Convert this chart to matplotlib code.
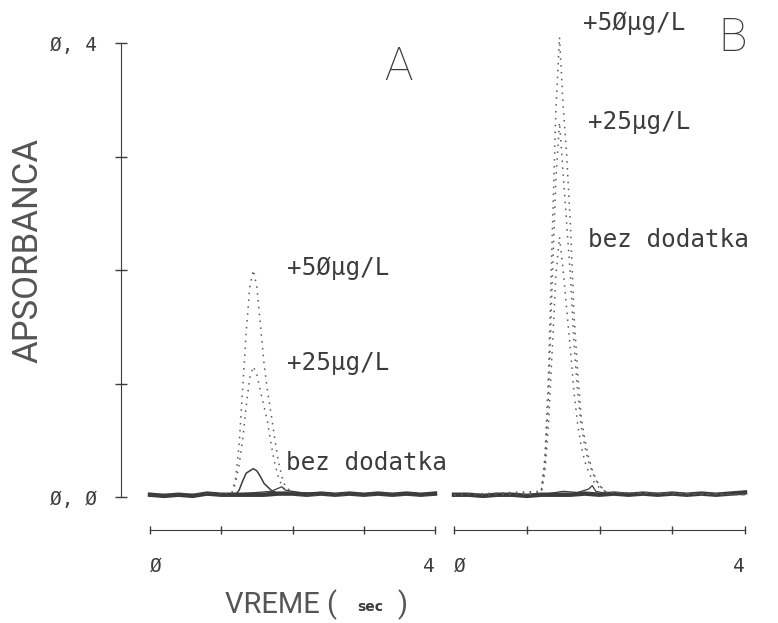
import matplotlib
matplotlib.use("Agg")
import matplotlib.pyplot as plt

# --- data (time in s, absorbance) ---
base_t = [0.0, 0.2, 0.4, 0.6, 0.8, 1.0, 1.2, 1.4, 1.6, 1.8, 2.0, 2.2, 2.4, 2.6, 2.8, 3.0, 3.2, 3.4, 3.6, 3.8, 4.0]
base_a = [0.002, 0.001, 0.002, 0.001, 0.003, 0.002, 0.002, 0.002, 0.002, 0.003, 0.003, 0.002, 0.003, 0.002, 0.003, 0.002, 0.003, 0.002, 0.003, 0.002, 0.003]
base_b = [0.002, 0.002, 0.001, 0.002, 0.002, 0.001, 0.002, 0.002, 0.002, 0.003, 0.002, 0.003, 0.002, 0.003, 0.002, 0.003, 0.002, 0.003, 0.002, 0.003, 0.004]

# panel A
a50_t = [0.0, 1.1, 1.15, 1.2, 1.25, 1.3, 1.35, 1.4, 1.45, 1.5, 1.55, 1.6, 1.65, 1.7, 1.75, 1.8, 1.85, 1.9, 2.0, 2.2, 4.0]
a50_v = [0.002, 0.002, 0.004, 0.016, 0.045, 0.095, 0.145, 0.185, 0.200, 0.185, 0.152, 0.118, 0.093, 0.073, 0.052, 0.032, 0.018, 0.009, 0.004, 0.002, 0.002]
a25_t = [0.0, 1.15, 1.2, 1.25, 1.3, 1.35, 1.4, 1.45, 1.5, 1.55, 1.6, 1.65, 1.7, 1.75, 1.8, 1.85, 1.9, 2.0, 4.0]
a25_v = [0.002, 0.003, 0.012, 0.028, 0.050, 0.080, 0.105, 0.115, 0.108, 0.093, 0.080, 0.066, 0.046, 0.030, 0.018, 0.010, 0.006, 0.003, 0.002]
a0_t = [0.0, 1.2, 1.25, 1.3, 1.35, 1.45, 1.5, 1.55, 1.6, 1.7, 1.8, 4.0]
a0_v = [0.002, 0.002, 0.006, 0.014, 0.021, 0.025, 0.023, 0.018, 0.012, 0.006, 0.003, 0.002]
ablank_t = [1.1, 1.3, 1.5, 1.7, 1.85, 1.9, 2.1, 2.4]
ablank_v = [0.002, 0.003, 0.004, 0.005, 0.009, 0.006, 0.004, 0.003]

# panel B
b50_t = [0.0, 1.15, 1.2, 1.25, 1.3, 1.35, 1.4, 1.45, 1.5, 1.55, 1.6, 1.65, 1.7, 1.75, 1.8, 1.85, 1.9, 1.95, 2.0, 2.1, 4.0]
b50_v = [0.002, 0.002, 0.006, 0.035, 0.110, 0.230, 0.340, 0.405, 0.345, 0.300, 0.240, 0.160, 0.110, 0.070, 0.050, 0.035, 0.024, 0.016, 0.010, 0.004, 0.002]
b25_t = [0.0, 1.2, 1.25, 1.3, 1.35, 1.4, 1.45, 1.5, 1.55, 1.6, 1.65, 1.7, 1.75, 1.8, 1.85, 1.9, 1.95, 2.0, 2.1, 4.0]
b25_v = [0.002, 0.005, 0.030, 0.090, 0.190, 0.280, 0.330, 0.285, 0.240, 0.195, 0.135, 0.092, 0.062, 0.044, 0.031, 0.022, 0.015, 0.010, 0.004, 0.002]
b0_t = [0.0, 1.2, 1.25, 1.3, 1.35, 1.4, 1.45, 1.5, 1.55, 1.6, 1.65, 1.7, 1.75, 1.8, 1.85, 1.9, 2.0, 2.1, 4.0]
b0_v = [0.002, 0.004, 0.022, 0.065, 0.130, 0.195, 0.229, 0.200, 0.165, 0.130, 0.092, 0.064, 0.044, 0.031, 0.022, 0.015, 0.008, 0.004, 0.002]
bblank_t = [1.1, 1.3, 1.5, 1.7, 1.85, 1.9, 1.95, 2.1, 2.4]
bblank_v = [0.002, 0.003, 0.005, 0.004, 0.007, 0.010, 0.005, 0.003, 0.002]

labels = ["+5\u00d8\u00b5g/L", "+25\u00b5g/L", "bez dodatka"]

INK = "#3c3c3c"
DOT = "#5a5a5a"
LIGHT = "#555555"
MONO = ["DejaVu Sans Mono"]
THIN = ["Roboto", "DejaVu Sans"]

fig = plt.figure(figsize=(7.78, 6.23), dpi=100)
W, H = 778.0, 623.0
axA = fig.add_axes([150 / W, (H - 497) / H, 285 / W, 454 / H])
axB = fig.add_axes([454 / W, (H - 497) / H, 291 / W, 454 / H])

dots = (0, (1, 3.5))
for ax in (axA, axB):
    ax.set_xlim(0, 4)
    ax.set_ylim(0, 0.4)
    for s in ("top", "right"):
        ax.spines[s].set_visible(False)
    ax.spines["bottom"].set_position(("outward", 24))
    ax.spines["bottom"].set_color(INK)
    ax.set_xticks([0, 1, 2, 3, 4])
    ax.set_xticklabels(["\u00d8", "", "", "", "4"], fontsize=14, color=INK, family=MONO)
    ax.tick_params(axis="x", direction="inout", length=6, width=1, color=INK, pad=16)
    tl = ax.get_xticklabels()
    tl[0].set_ha("left")
    tl[-1].set_ha("right")

axB.spines["left"].set_visible(False)
axB.set_yticks([])
axA.spines["left"].set_position(("outward", 21))
axA.spines["left"].set_color(INK)
axA.set_yticks([0, 0.1, 0.2, 0.3, 0.4])
axA.set_yticklabels(["\u00d8, \u00d8", "", "", "", "\u00d8, 4"], fontsize=14, color=INK, family=MONO)
axA.tick_params(axis="y", direction="inout", length=8, width=1, color=INK, pad=13)

# panel A traces
axA.plot(base_t, base_a, color=INK, lw=3.2, clip_on=False)
axA.plot(a50_t, a50_v, color=DOT, lw=1.1, ls=dots, clip_on=False)
axA.plot(a25_t, a25_v, color=DOT, lw=1.1, ls=dots, clip_on=False)
axA.plot(a0_t, a0_v, color=INK, lw=1.1, clip_on=False)
axA.plot(ablank_t, ablank_v, color=INK, lw=0.9, clip_on=False)

# panel B traces
axB.plot(base_t, base_b, color=INK, lw=3.2, clip_on=False)
axB.plot(b50_t, b50_v, color=DOT, lw=1.1, ls=dots, clip_on=False)
axB.plot(b25_t, b25_v, color=DOT, lw=1.1, ls=dots, clip_on=False)
axB.plot(b0_t, b0_v, color=DOT, lw=1.1, ls=dots, clip_on=False)
axB.plot(bblank_t, bblank_v, color=INK, lw=0.9, clip_on=False)

ann = dict(fontsize=17.5, color=INK, va="center", ha="left", clip_on=False, family=MONO)
axA.text(1.92, 0.202, labels[0], **ann)
axA.text(1.92, 0.118, labels[1], **ann)
axA.text(1.91, 0.030, labels[2], **ann)
axB.text(1.77, 0.418, labels[0], **ann)
axB.text(1.84, 0.330, labels[1], **ann)
axB.text(1.84, 0.226, labels[2], **ann)

# panel letters
fig.text(398 / W, 1 - 67 / H, "A", fontsize=34, color=INK, ha="center", va="center",
         family=THIN, weight="light")
fig.text(733 / W, 1 - 38 / H, "B", fontsize=34, color=INK, ha="center", va="center",
         family=THIN, weight="light")

# axis titles
fig.text(28 / W, 1 - 250 / H, "APSORBANCA", fontsize=25, color=LIGHT, rotation=90,
         ha="center", va="center", family=THIN)
fig.text(337 / W, 1 - 605 / H, "VREME (", fontsize=21, color=LIGHT, ha="right", va="center",
         family=THIN)
fig.text(370 / W, 1 - 607 / H, "sec", fontsize=10, weight="bold", color=INK, ha="center", va="center",
         family=["DejaVu Sans"])
fig.text(398 / W, 1 - 605 / H, ")", fontsize=21, color=LIGHT, ha="left", va="center",
         family=THIN)

fig.savefig("out.png", dpi=100, facecolor="white")
